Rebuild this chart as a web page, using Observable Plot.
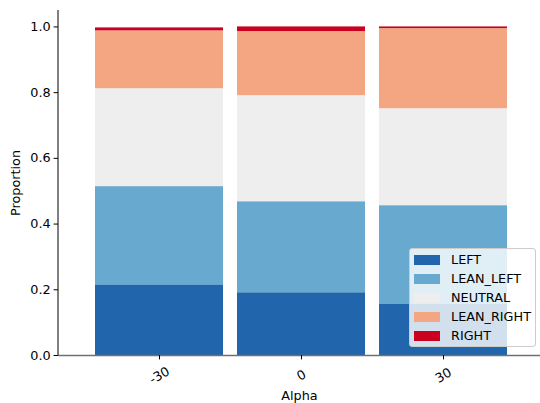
<!DOCTYPE html>
<html>
<head>
<meta charset="utf-8">
<script src="https://cdn.jsdelivr.net/npm/d3@7"></script>
<script src="https://cdn.jsdelivr.net/npm/@observablehq/plot@0.6"></script>
<style>
  html, body { margin: 0; padding: 0; background: #fff; }
  #wrap { position: relative; width: 540px; height: 403px; font-family: "DejaVu Sans", sans-serif; }
  #legend { position: absolute; left: 409px; top: 248px; width: 127px; height: 99px;
    background: rgba(255,255,255,0.8); border: 1px solid #cccccc; border-radius: 3px; box-sizing: border-box; }
  .row { position: absolute; left: 0; height: 19px; display: flex; align-items: center; font-size: 12.8px; color: #000; }
  .sw { width: 26px; height: 10px; margin-left: 4px; margin-right: 11px; }
</style>
</head>
<body>
<div id="wrap"></div>
<script>
const alphas = ["-30", "0", "30"];
const categories = ["LEFT", "LEAN_LEFT", "NEUTRAL", "LEAN_RIGHT", "RIGHT"];
const colors = ["#2166ac", "#67a9cf", "#eeeeee", "#f4a582", "#ca0020"];
// proportion of each category per alpha, in category order
const propMinus30 = [0.215, 0.299, 0.298, 0.176, 0.009];
const propZero    = [0.191, 0.277, 0.323, 0.195, 0.014];
const propPlus30  = [0.157, 0.299, 0.295, 0.244, 0.005];
const yTicks = [0, 0.2, 0.4, 0.6, 0.8, 1.0];

const series = [propMinus30, propZero, propPlus30];
const rows = [];
alphas.forEach((a, i) => categories.forEach((c, j) => rows.push({alpha: a, category: c, value: series[i][j]})));

const fs = 12.8;
const chart = Plot.plot({
  width: 540, height: 403,
  marginLeft: 58, marginRight: 0, marginTop: 10, marginBottom: 48,
  style: {fontFamily: "DejaVu Sans", fontSize: fs + "px", color: "#000", background: "#fff"},
  x: {type: "band", domain: alphas, paddingInner: 0.1, paddingOuter: 0.24, align: 0.52},
  y: {domain: [0, 1.05]},
  color: {type: "ordinal", domain: categories, range: colors},
  marks: [
    Plot.barY(rows, {x: "alpha", y: "value", fill: "category", order: null}),
    Plot.ruleY([0], {stroke: "#707070", strokeWidth: 1.3}),
    Plot.axisY({ticks: yTicks, tickFormat: d3.format(".1f"), tickSize: 4.4, tickPadding: 3.5, label: null, fontSize: fs}),
    Plot.axisX({tickSize: 4.4, tickFormat: () => "", label: null}),
    Plot.text(alphas, {x: d => d, text: d => d, frameAnchor: "bottom", dy: 20, rotate: -30, textAnchor: "middle", lineAnchor: "middle", fontSize: fs}),
    Plot.text(["Alpha"], {text: d => d, frameAnchor: "bottom", dy: 40.3, textAnchor: "middle", lineAnchor: "middle", fontSize: fs}),
    Plot.text(["Proportion"], {text: d => d, frameAnchor: "left", dx: -42.5, rotate: -90, textAnchor: "middle", lineAnchor: "middle", fontSize: fs}),
    (index, scales, values, dims) => {
      const line = document.createElementNS("http://www.w3.org/2000/svg", "line");
      line.setAttribute("x1", dims.marginLeft); line.setAttribute("x2", dims.marginLeft);
      line.setAttribute("y1", dims.marginTop); line.setAttribute("y2", dims.height - dims.marginBottom);
      line.setAttribute("stroke", "#000"); line.setAttribute("stroke-width", 1);
      return line;
    }
  ]
});
const wrap = document.getElementById("wrap");
wrap.appendChild(chart);

const legend = document.createElement("div");
legend.id = "legend";
categories.forEach((c, i) => {
  const row = document.createElement("div");
  row.className = "row";
  row.style.top = (1 + i * 19) + "px";
  const sw = document.createElement("div");
  sw.className = "sw";
  sw.style.background = colors[i];
  const label = document.createElement("span");
  label.textContent = c;
  row.appendChild(sw); row.appendChild(label);
  legend.appendChild(row);
});
wrap.appendChild(legend);
</script>
</body>
</html>
